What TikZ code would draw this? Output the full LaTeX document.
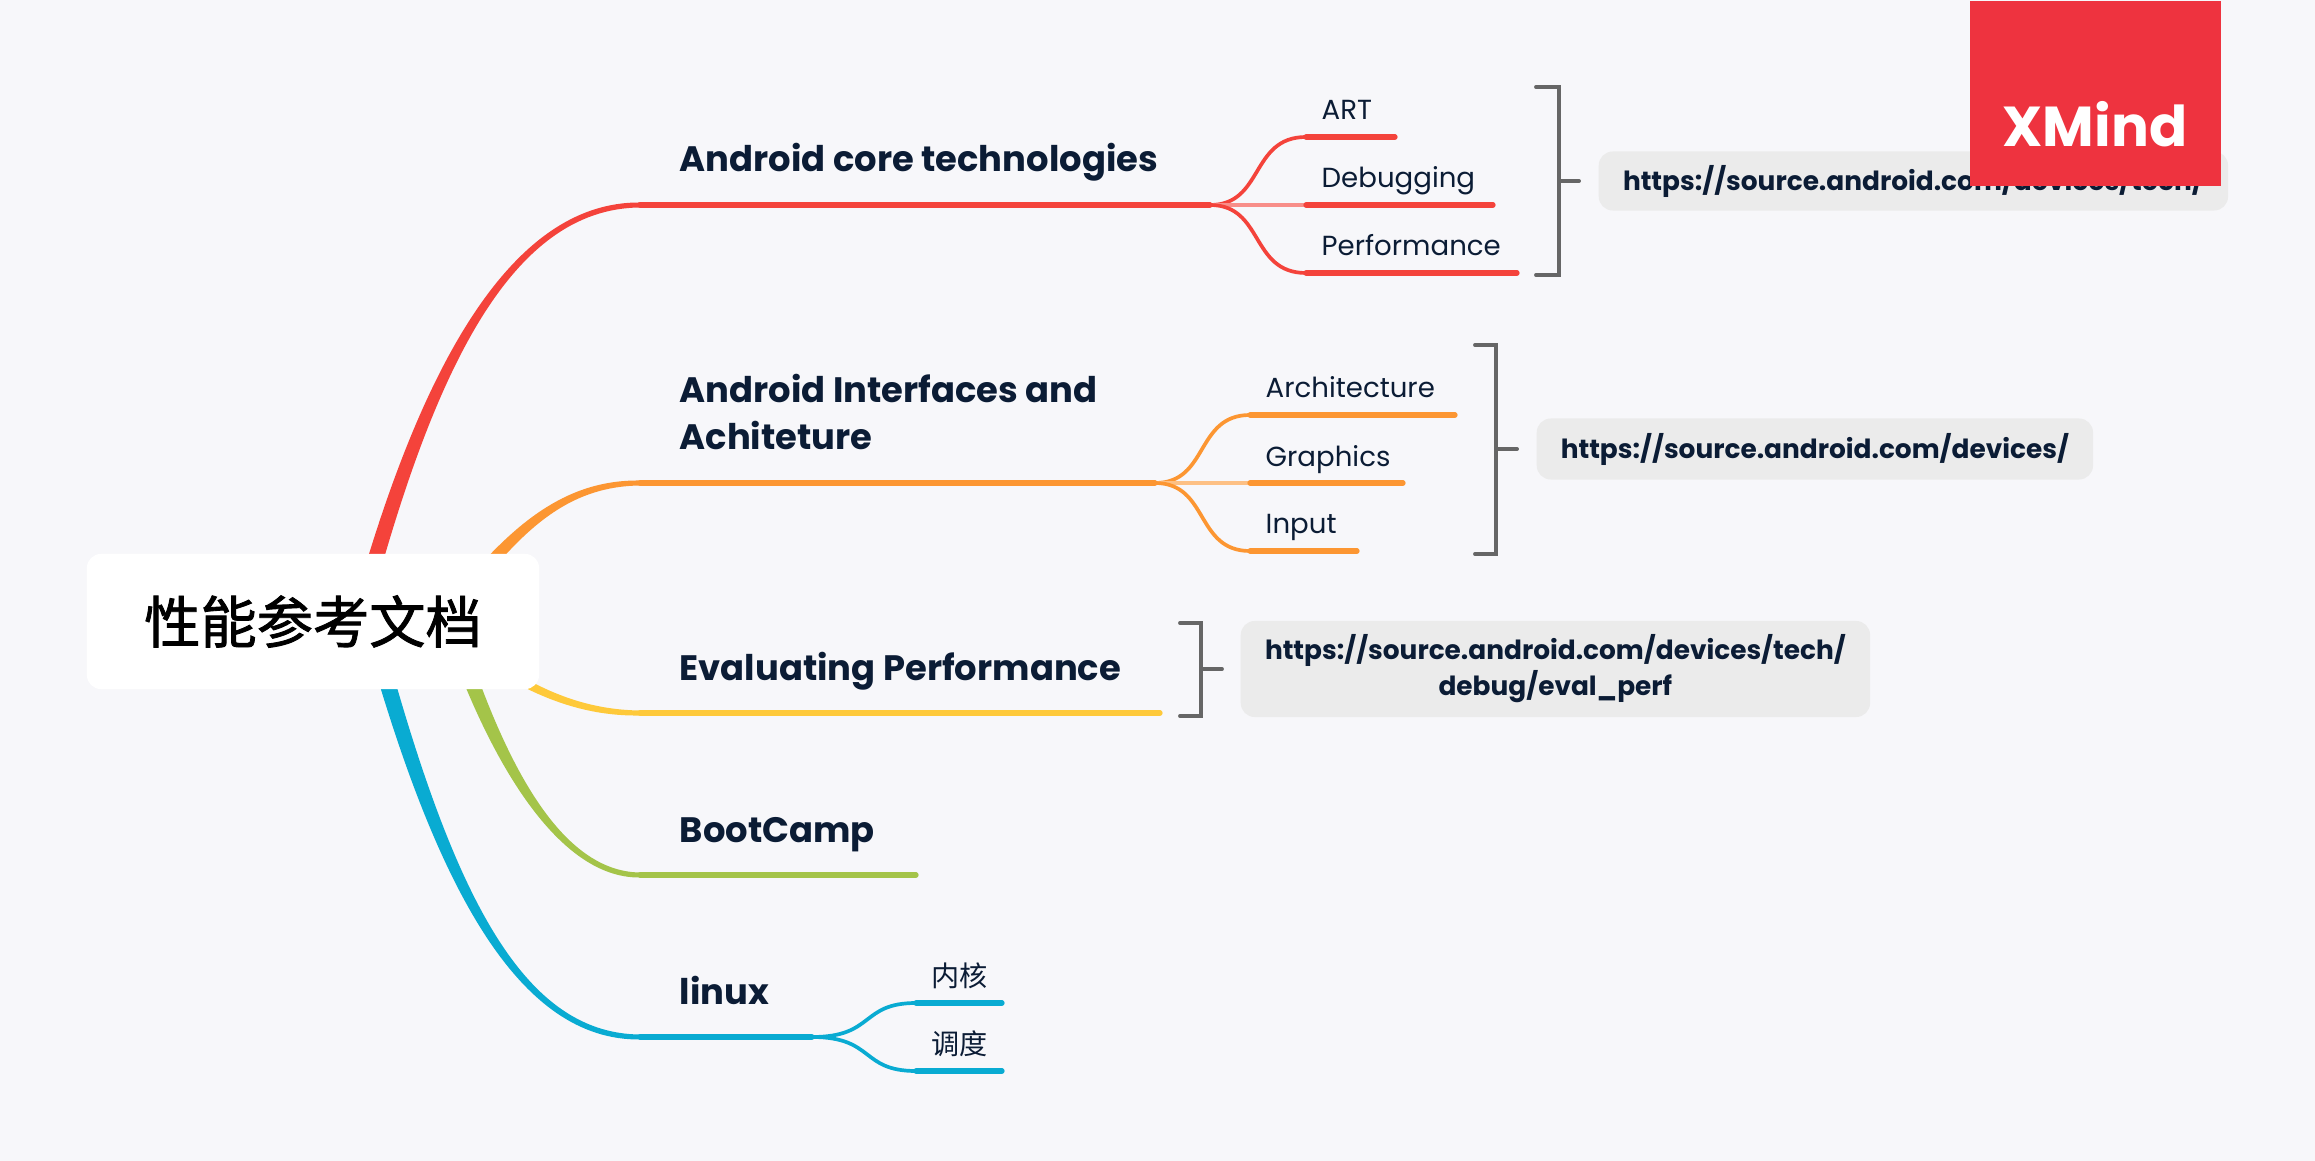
\documentclass[tikz,border=0pt]{standalone}
\usepackage{fontspec}
\setmainfont{Poppins}
\newfontfamily\cjkfont{Noto Sans CJK SC}
\newfontfamily\rootfont[FakeBold=1.5]{Noto Sans CJK SC}
\usetikzlibrary{calc,positioning,backgrounds}
\definecolor{MapPaper}{HTML}{F7F7FA}
\definecolor{MapInk}{HTML}{0B1C35}
\definecolor{MapRed}{HTML}{F4433B}
\definecolor{MapOrange}{HTML}{FC9632}
\definecolor{MapYellow}{HTML}{FEC93A}
\definecolor{MapGreen}{HTML}{A4C449}
\definecolor{MapBlue}{HTML}{09ABD2}
\definecolor{MapLogo}{HTML}{EE333F}
\definecolor{MapBox}{HTML}{EBEBEB}
\definecolor{MapBracket}{HTML}{666666}
% one tapered main branch: colour, start, control, control, end, half width at start, side
\newcommand{\taperbranch}[7]{\fill[#1] ($(#2)+(#6)$) .. controls ($(#3)+0.85*(#6)$) and ($(#4)+(0,3.5*#7)$) .. ($(#5)+(0,2.5*#7)$) -- ($(#5)-(0,2.5*#7)$) .. controls ($(#4)-(0,3.5*#7)$) and ($(#3)-0.85*(#6)$) .. ($(#2)-(#6)$) -- cycle;}
\begin{document}
\begin{tikzpicture}[
    x=0.01cm,y=-0.01cm,
    rootbox/.style={fill=white,rounded corners=0.14cm,minimum width=4.52cm,minimum height=1.35cm,inner sep=0pt,font=\rootfont\fontsize{16}{19}\selectfont,text=black},
    topic/.style={anchor=base west,inner sep=0pt,align=left,text=MapInk,font=\fontsize{10.05}{13.6}\selectfont\bfseries},
    subtopic/.style={anchor=base west,inner sep=0pt,text=MapInk,font=\fontsize{7.85}{10}\selectfont},
    cjksub/.style={anchor=base west,inner sep=0pt,text=MapInk,font=\cjkfont\fontsize{8}{10}\selectfont},
    urlbox/.style={fill=MapBox,rounded corners=0.14cm,inner sep=0pt,align=center,text=MapInk,font=\fontsize{7.5}{10.2}\selectfont\bfseries},
    mainline/.style={line width=1.5pt,line cap=round},
    twig/.style={line width=1.05pt},
    bracket/.style={draw=MapBracket,line width=1.1pt,line cap=round}
  ]
    \useasboundingbox (0,0) rectangle (2315,1161);
    \node[rootbox] (root) at (313,621.5) {性能参考文档};

    % branch starts, hidden behind the root
    \coordinate (redS) at ($(root.center)+(45,0)$);
    \coordinate (orangeS) at ($(root.center)+(137,-10)$);
    \coordinate (yellowS) at ($(root.center)+(157,28)$);
    \coordinate (greenS) at ($(root.center)+(137,0)$);
    \coordinate (blueS) at ($(root.center)+(57,0)$);

    % topic lines
    \coordinate (coreL) at (640,205);
    \coordinate (coreR) at (1210,205);
    \coordinate (ifaceL) at (640,483);
    \coordinate (ifaceR) at (1155,483);
    \coordinate (evalL) at (640,713);
    \coordinate (evalR) at (1160,713);
    \coordinate (campL) at (640,875);
    \coordinate (campR) at (916,875);
    \coordinate (linuxL) at (640,1037);
    \coordinate (linuxR) at (812,1037);

    \node[topic] (core) at ($(coreL)+(39,-33)$) {Android core technologies};
    \node[topic] (iface) at ($(ifaceL)+(39,-33)$) {Android Interfaces and\\Achiteture};
    \node[topic] (evalperf) at ($(evalL)+(39,-33)$) {Evaluating Performance};
    \node[topic] (camp) at ($(campL)+(39,-33)$) {BootCamp};
    \node[topic] (linux) at ($(linuxL)+(39,-33)$) {linux};

    % subtopics
    \coordinate (artL) at (1306,137);
    \coordinate (artR) at (1395,137);
    \coordinate (debugL) at (1306,205);
    \coordinate (debugR) at (1493,205);
    \coordinate (perfL) at (1306,273);
    \coordinate (perfR) at (1517,273);
    \coordinate (archL) at (1250,415);
    \coordinate (archR) at (1455,415);
    \coordinate (graphL) at (1250,483);
    \coordinate (graphR) at (1403,483);
    \coordinate (inputL) at (1250,551);
    \coordinate (inputR) at (1357,551);
    \coordinate (kernelL) at (916,1003);
    \coordinate (kernelR) at (1002,1003);
    \coordinate (schedL) at (916,1071);
    \coordinate (schedR) at (1002,1071);

    \node[subtopic] (art) at ($(artL)+(15,-17)$) {ART};
    \node[subtopic] (debug) at ($(debugL)+(15,-17)$) {Debugging};
    \node[subtopic] (perf) at ($(perfL)+(15,-17)$) {Performance};
    \node[subtopic] (arch) at ($(archL)+(15,-17)$) {Architecture};
    \node[subtopic] (graph) at ($(graphL)+(15,-17)$) {Graphics};
    \node[subtopic] (input) at ($(inputL)+(15,-17)$) {Input};
    \node[cjksub] (kernel) at ($(kernelL)+(15,-17)$) {内核};
    \node[cjksub] (sched) at ($(schedL)+(15,-17)$) {调度};

    % brackets and link boxes
    \coordinate (brkA) at (1559,181);
    \coordinate (stemA) at (1579,181);
    \coordinate (brkB) at (1496,449);
    \coordinate (stemB) at (1517,449);
    \coordinate (brkC) at (1201,669);
    \coordinate (stemC) at (1222,669);
    \node[urlbox,minimum width=6.29cm,minimum height=0.59cm,right=0.19cm of stemA] (urlA) {https://source.android.com/devices/tech/};
    \node[urlbox,minimum width=5.56cm,minimum height=0.61cm,right=0.19cm of stemB] (urlB) {https://source.android.com/devices/};
    \node[urlbox,minimum width=6.29cm,minimum height=0.96cm,right=0.18cm of stemC] (urlC) {https://source.android.com/devices/tech/\\debug/eval\_perf};

    \draw[bracket] ($(brkA)+(-23,-94)$) -- ($(brkA)+(0,-94)$) -- ($(brkA)+(0,94)$) -- ($(brkA)+(-23,94)$);
    \draw[bracket] (brkA) -- (stemA);
    \draw[bracket] ($(brkB)+(-21,-104)$) -- ($(brkB)+(0,-104)$) -- ($(brkB)+(0,105)$) -- ($(brkB)+(-21,105)$);
    \draw[bracket] (brkB) -- (stemB);
    \draw[bracket] ($(brkC)+(-21,-46)$) -- ($(brkC)+(0,-46)$) -- ($(brkC)+(0,47)$) -- ($(brkC)+(-21,47)$);
    \draw[bracket] (brkC) -- (stemC);

    \node[fill=MapLogo,minimum width=2.51cm,minimum height=1.85cm,inner sep=0pt,anchor=north west] (logo) at (1969,0) {};
    \node[text=white,inner sep=0pt,anchor=base,font=\fontsize{16}{18}\selectfont\bfseries] (logotext) at (2095,147) {XMind};

    \begin{scope}[on background layer]
      \fill[MapPaper] (0,0) rectangle (2315,1161);

      \taperbranch{MapRed}{redS}{425,371}{510,205}{coreL}{-8,-2}{-1}
      \taperbranch{MapOrange}{orangeS}{510,535}{560,483}{ifaceL}{-5,-5}{-1}
      \taperbranch{MapYellow}{yellowS}{520,683}{570,713}{evalL}{-2.5,4.5}{1}
      \taperbranch{MapGreen}{greenS}{492,750}{555,875}{campL}{-8,2.5}{1}
      \taperbranch{MapBlue}{blueS}{443,891}{520,1037}{linuxL}{-8,2.5}{1}

      \draw[mainline,MapRed] (coreL) -- (coreR);
      \draw[mainline,MapOrange] (ifaceL) -- (ifaceR);
      \draw[mainline,MapYellow] (evalL) -- (evalR);
      \draw[mainline,MapGreen] (campL) -- (campR);
      \draw[mainline,MapBlue] (linuxL) -- (linuxR);

      \draw[twig,MapRed] (coreR) .. controls (1264,205) and (1250,137) .. (artL);
      \draw[twig,MapRed!60] (coreR) -- (debugL);
      \draw[twig,MapRed] (coreR) .. controls (1264,205) and (1250,273) .. (perfL);
      \draw[twig,MapOrange] (ifaceR) .. controls (1209,483) and (1195,415) .. (archL);
      \draw[twig,MapOrange!60] (ifaceR) -- (graphL);
      \draw[twig,MapOrange] (ifaceR) .. controls (1209,483) and (1195,551) .. (inputL);
      \draw[twig,MapBlue] (linuxR) .. controls (875,1037) and (860,1003) .. (kernelL);
      \draw[twig,MapBlue] (linuxR) .. controls (875,1037) and (860,1071) .. (schedL);

      \draw[mainline,MapRed] (artL) -- (artR);
      \draw[mainline,MapRed] (debugL) -- (debugR);
      \draw[mainline,MapRed] (perfL) -- (perfR);
      \draw[mainline,MapOrange] (archL) -- (archR);
      \draw[mainline,MapOrange] (graphL) -- (graphR);
      \draw[mainline,MapOrange] (inputL) -- (inputR);
      \draw[mainline,MapBlue] (kernelL) -- (kernelR);
      \draw[mainline,MapBlue] (schedL) -- (schedR);
    \end{scope}
  \end{tikzpicture}
\end{document}
